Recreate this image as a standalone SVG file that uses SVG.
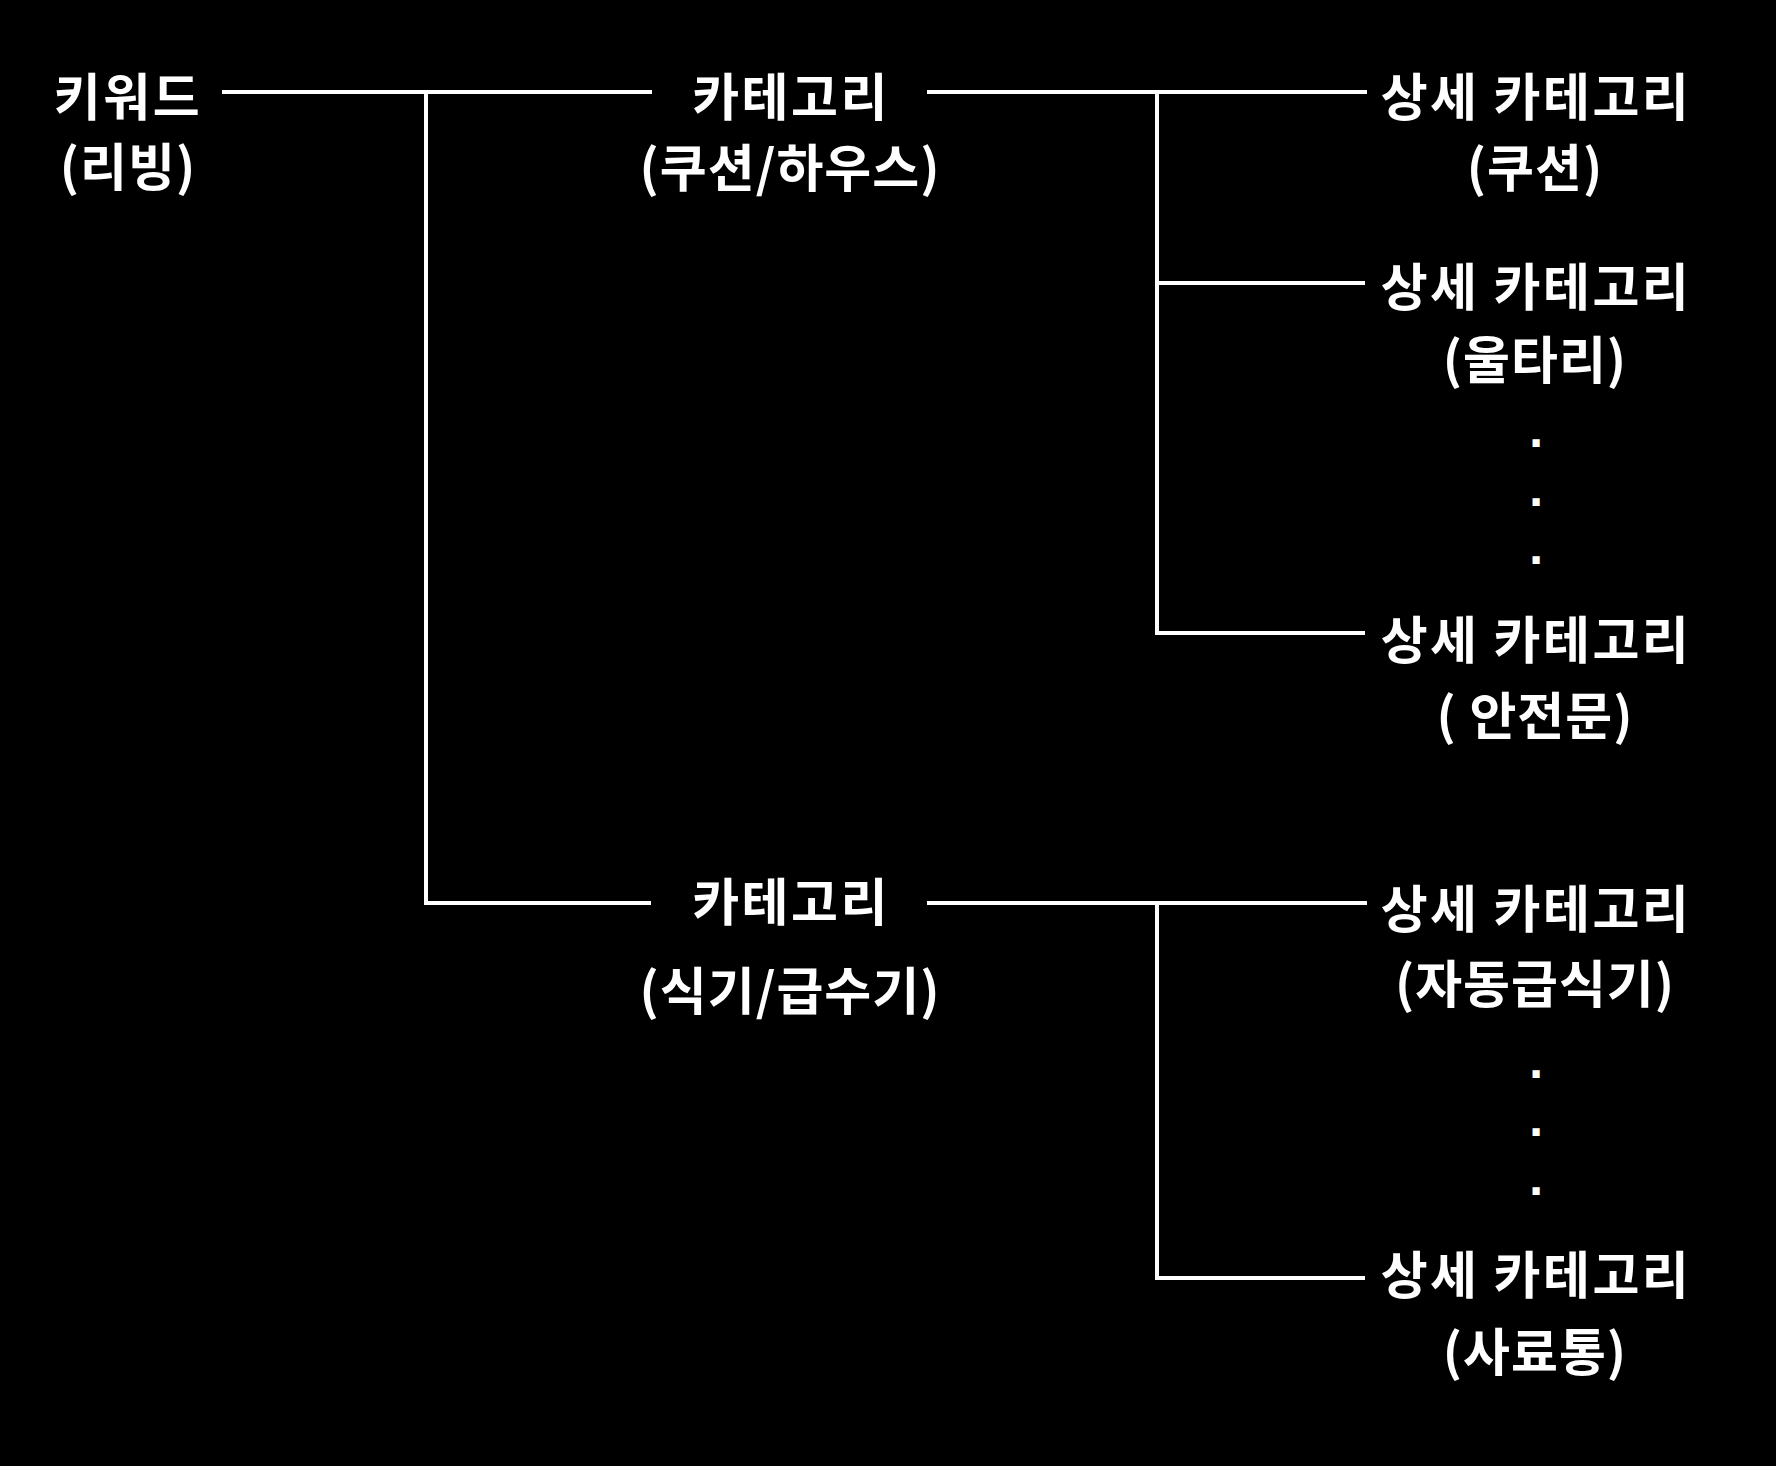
<svg xmlns="http://www.w3.org/2000/svg" width="1776" height="1466" viewBox="0 0 1776 1466">
<style>
.t{font-family:"Noto Sans CJK KR","Noto Sans",sans-serif;font-weight:700;font-size:51px;letter-spacing:2.5px;fill:#fff;text-anchor:middle}
.p{letter-spacing:1px}
.d{font-family:"DejaVu Sans",sans-serif;font-weight:700;font-size:40px;fill:#fff;text-anchor:middle}
.c{fill:none;stroke:#fff;stroke-width:4}
</style>
<rect width="1776" height="1466" fill="#000"/>
<g id="connectors">
<path class="c" d="M222,92 H652"/>
<path class="c" d="M426,92 V903 H651"/>
<path class="c" d="M927,92 H1367"/>
<path class="c" d="M1157,92 V633 H1365"/>
<path class="c" d="M1157,283 H1365"/>
<path class="c" d="M927,903 H1367"/>
<path class="c" d="M1157,903 V1278 H1365"/>
</g>
<g id="keyword"><text class="t" x="128" y="116">키워드</text><text class="t p" x="128" y="186">(리빙)</text></g>
<g id="cat1"><text class="t" x="791" y="116">카테고리</text><text class="t p" x="790" y="187">(쿠션/하우스)</text></g>
<g id="cat2"><text class="t" x="791" y="921">카테고리</text><text class="t p" x="790" y="1010">(식기/급수기)</text></g>
<g id="sub1"><text class="t" x="1536" y="116">상세 카테고리</text><text class="t p" x="1535" y="187">(쿠션)</text></g>
<g id="sub2"><text class="t" x="1536" y="306">상세 카테고리</text><text class="t p" x="1535" y="379">(울타리)</text></g>
<g id="dots1"><text class="d" x="1536" y="447">.</text><text class="d" x="1536" y="506">.</text><text class="d" x="1536" y="564">.</text></g>
<g id="sub3"><text class="t" x="1536" y="659">상세 카테고리</text><text class="t p" x="1535" y="735">( 안전문)</text></g>
<g id="sub4"><text class="t" x="1536" y="928">상세 카테고리</text><text class="t p" x="1535" y="1003">(자동급식기)</text></g>
<g id="dots2"><text class="d" x="1536" y="1078">.</text><text class="d" x="1536" y="1136">.</text><text class="d" x="1536" y="1195">.</text></g>
<g id="sub5"><text class="t" x="1536" y="1294">상세 카테고리</text><text class="t p" x="1535" y="1371">(사료통)</text></g>
</svg>
